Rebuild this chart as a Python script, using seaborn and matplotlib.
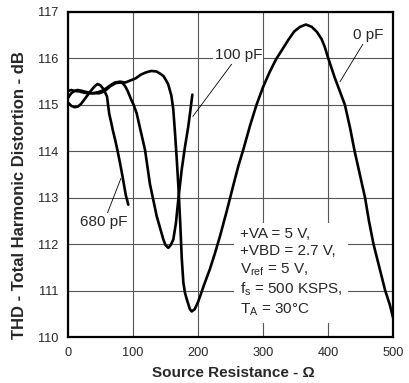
import numpy as np
import pandas as pd
import matplotlib
matplotlib.use("Agg")
import matplotlib.pyplot as plt
import seaborn as sns

# THD vs source resistance
res_0pf = [0, 5, 10, 15, 22, 30, 38, 45, 52, 58, 65, 72, 80, 88, 95, 104, 112, 120, 128, 136,
           142, 147, 154, 159, 162, 164.6, 167, 170, 172.5, 175, 177.5, 180, 183, 187.5, 190.3,
           195, 200, 205, 210, 218, 226, 234, 244, 254, 262, 270, 280, 290, 300, 310, 320, 330,
           339, 348, 357, 366, 375, 383, 390, 395, 400, 410, 418, 426, 434, 441, 449, 457, 463,
           470, 479, 488, 495, 500]
thd_0pf = [115.15, 115.25, 115.3, 115.32, 115.3, 115.27, 115.25, 115.27, 115.3, 115.35, 115.42,
           115.48, 115.5, 115.48, 115.52, 115.57, 115.65, 115.7, 115.73, 115.72, 115.67, 115.62,
           115.45, 115.2, 114.9, 114.4, 113.9, 113.2, 112.5, 111.7, 111.17, 110.95, 110.8,
           110.6, 110.55, 110.6, 110.75, 110.95, 111.15, 111.45, 111.8, 112.18, 112.7, 113.25,
           113.68, 114.05, 114.55, 115.0, 115.38, 115.7, 115.98, 116.2, 116.4, 116.58, 116.68,
           116.73, 116.68, 116.57, 116.42, 116.25, 116.02, 115.6, 115.3, 115.0, 114.5, 114.0,
           113.5, 113.0, 112.5, 112.0, 111.5, 111.0, 110.7, 110.42]

res_100pf = [0, 5, 10, 17, 25, 33, 40, 48, 54, 58.5, 65, 73.8, 80, 84, 88, 91.8, 97, 101, 105.6,
             110.8, 118.5, 126, 136.5, 146.7, 150, 154.3, 158, 162, 166, 169.7, 174.9, 180, 185,
             188, 191.3]
thd_100pf = [115.3, 115.32, 115.3, 115.29, 115.26, 115.25, 115.25, 115.25, 115.28, 115.32, 115.4,
             115.47, 115.48, 115.47, 115.4, 115.3, 115.12, 115.0, 114.82, 114.5, 114.03, 113.3,
             112.6, 112.1, 111.98, 111.92, 111.98, 112.1, 112.45, 112.96, 113.6, 114.1, 114.53,
             114.85, 115.22]

res_680pf = [0, 5, 10, 15, 20, 27, 35, 41, 45.6, 50, 55, 60, 63.5, 66, 69, 72.5, 76.4, 80, 84,
             89, 92.8]
thd_680pf = [115.05, 114.98, 114.95, 114.96, 115.02, 115.15, 115.3, 115.4, 115.45, 115.42,
             115.33, 115.18, 114.8, 114.65, 114.45, 114.25, 114.0, 113.75, 113.45, 113.05, 112.85]

x_ticks = [0, 100, 200, 300, 400, 500]
y_ticks = [110, 111, 112, 113, 114, 115, 116, 117]

df = pd.concat([
    pd.DataFrame({"res": res_0pf, "thd": thd_0pf, "cap": "0 pF"}),
    pd.DataFrame({"res": res_100pf, "thd": thd_100pf, "cap": "100 pF"}),
    pd.DataFrame({"res": res_680pf, "thd": thd_680pf, "cap": "680 pF"}),
])

sns.set_style("white")
plt.rcParams["font.family"] = ["Liberation Sans", "DejaVu Sans"]
plt.rcParams["mathtext.fontset"] = "custom"
plt.rcParams["mathtext.rm"] = "Liberation Sans"
plt.rcParams["mathtext.default"] = "regular"

fig = plt.figure(figsize=(4.09, 3.83), dpi=100)
ax = fig.add_axes([68 / 409, 1 - 337 / 383, 325 / 409, 325 / 383])

sns.lineplot(data=df, x="res", y="thd", units="cap", estimator=None, color="black",
             lw=1.9, ax=ax, legend=False, zorder=3)

ax.set_xlim(0, 500)
ax.set_ylim(110, 117)
ax.set_xticks(x_ticks)
ax.set_yticks(y_ticks)
ax.tick_params(length=0, labelsize=9.2)
ax.tick_params(axis="x", pad=7)
ax.tick_params(axis="y", pad=7)
ax.grid(True, color="#555555", lw=0.8)
ax.set_axisbelow(True)
for s in ax.spines.values():
    s.set_linewidth(1.6)
    s.set_color("black")
ax.set_xlabel("")
ax.set_ylabel("")

fig.text(233 / 409, 1 - 373 / 383, "Source Resistance - \u03a9", ha="center", va="center",
         fontsize=11, fontweight="bold")
fig.text(20 / 409, 1 - 195 / 383, "THD - Total Harmonic Distortion - dB", ha="center",
         va="center", rotation=90, fontsize=12, fontweight="bold")

line_kw = dict(arrowstyle="-", lw=0.6, color="black", shrinkA=0, shrinkB=0)
box_kw = dict(fc="white", ec="none", pad=1)
ax.annotate("100 pF", xy=(192, 114.75), xytext=(262, 116.07), ha="center", va="center",
            fontsize=11, bbox=box_kw, arrowprops=line_kw)
ax.annotate("0 pF", xy=(418.5, 115.5), xytext=(462, 116.5), ha="center", va="center",
            fontsize=11, bbox=box_kw, arrowprops=line_kw)
ax.annotate("680 pF", xy=(81.5, 113.42), xytext=(55.4, 112.48), ha="center", va="center",
            fontsize=11, bbox=box_kw, arrowprops=line_kw)

cond = ("+VA = 5 V,\n+VBD = 2.7 V,\n$V_{ref}$ = 5 V,\n$f_s$ = 500 KSPS,\n$T_A$ = 30\u00b0C")
ax.text(264, 112.36, cond, ha="left", va="top", fontsize=11, linespacing=1.25,
        bbox=dict(fc="white", ec="none", pad=4))

fig.savefig("out.png", dpi=100)
